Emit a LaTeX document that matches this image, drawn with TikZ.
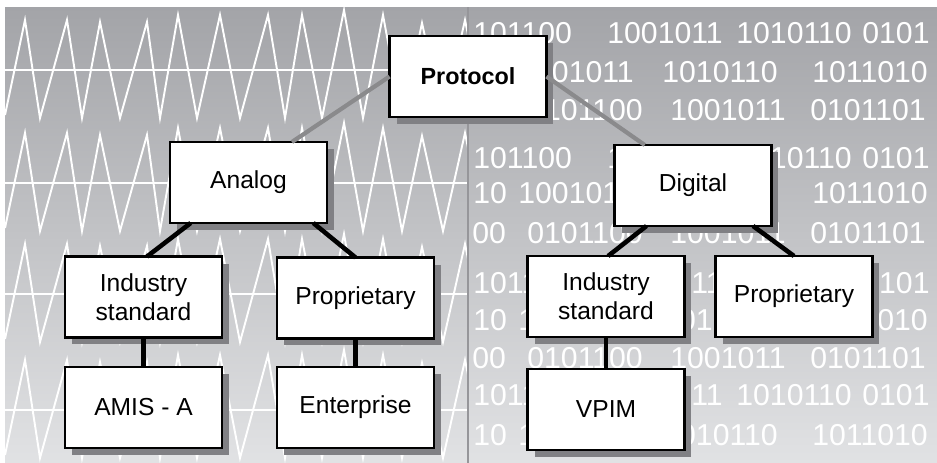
\documentclass[tikz,border=0pt]{standalone}
\usepackage{fontspec}
\setmainfont{Liberation Sans}
\usetikzlibrary{shadows}
\definecolor{panelTop}{RGB}{163,164,168}
\definecolor{panelBottom}{RGB}{225,226,228}
\definecolor{shadowgray}{RGB}{128,128,132}
\definecolor{linkgray}{RGB}{138,138,140}
\definecolor{dividergray}{RGB}{150,150,154}

\begin{document}
\begin{tikzpicture}[x=0.02cm, y=-0.02cm,
    box/.style={draw, line width=1.2pt, fill=white, minimum width=3.14cm, minimum height=1.62cm,
        inner sep=0pt, outer sep=0pt, align=center, font=\fontsize{14}{16.4}\selectfont,
        drop shadow={shadow xshift=0.14cm, shadow yshift=-0.14cm, fill=shadowgray, opacity=1}},
    link/.style={line width=2.6pt, black},
    toplink/.style={line width=2.4pt, linkgray},
    wave/.style={white, line width=1.1pt, line join=miter},
    bits/.style={text=white, anchor=base west, inner sep=0pt, font=\fontsize{17.2}{17.2}\selectfont}]
    \useasboundingbox (0,0) rectangle (937,463);
    % background panel
    \shade[top color=panelTop, bottom color=panelBottom] (5,7) rectangle (937,463);

    % analog side: zigzag waves
    \begin{scope}
        \clip (5,7) rectangle (468,463);
        \foreach \c in {70,183,294,410} {
            \draw[wave] (5,\c) -- (468,\c);
            \draw[wave] (5,\c+45) \foreach \x/\d in {25/-50,40/48,67/-50,82/48,100/-48,120/48,147/-48,160/48,
                178/-55,197/48,220/-55,240/48,268/-55,285/48,302/-55,322/48,344/-60,363/48,383/-55,
                402/48,422/-47,443/48,465/-50,485/48} { -- (\x,\c+\d) };
        }
    \end{scope}

    % digital side: rows of bits
    \begin{scope}
        \clip (468,7) rectangle (937,463);
        \foreach \x/\w in {475/101100,609/1001011,738/1010110,864/0101} {
            \foreach \yb in {43,168,293,405} {
                \node[bits] (bitA-\yb-\x) at (\x-2,\yb) {\w};
            }
        }
        \foreach \x/\w in {475/10,520/1001011,664/1010110,814/1011010} {
            \foreach \yb in {82,203,330,445} {
                \node[bits] (bitB-\yb-\x) at (\x-2,\yb) {\w};
            }
        }
        \foreach \x/\w in {474/00,529/0101100,672/1001011,812/0101101} {
            \foreach \yb in {120,243,368} {
                \node[bits] (bitC-\yb-\x) at (\x-2,\yb) {\w};
            }
        }
    \end{scope}
    \draw[dividergray, line width=0.8pt] (468,7) -- (468,463);

    % tree of protocols
    \node[box, font=\bfseries\fontsize{13.3}{16.4}\selectfont] (protocol) at (468,76.5) {Protocol};
    \node[box] (analog) at (248.5,182.5) {Analog};
    \node[box] (digital) at (693,185.5) {Digital};
    \node[box] (anaStd) at (143.5,297) {Industry\\standard};
    \node[box] (anaProp) at (355.5,298) {Proprietary};
    \node[box] (amis) at (143.5,407.5) {AMIS - A};
    \node[box] (enterprise) at (355.5,407.5) {Enterprise};
    \node[box] (digStd) at (606,296.5) {Industry\\standard};
    \node[box] (digProp) at (794,296.5) {Proprietary};
    \node[box] (vpim) at (606,409.5) {VPIM};

    \draw[toplink] (protocol.west) -- (analog.43);
    \draw[toplink] (protocol.east) -- (digital.140);
    \draw[link] (analog.215) -- (anaStd.85);
    \draw[link] (analog.-32) -- (anaProp.north);
    \draw[link] (anaStd) -- (amis);
    \draw[link] (anaProp) -- (enterprise);
    \draw[link] (digital.221) -- (digStd.87);
    \draw[link] (digital.-34) -- (digProp.north);
    \draw[link] (digStd) -- (vpim);
\end{tikzpicture}
\end{document}
